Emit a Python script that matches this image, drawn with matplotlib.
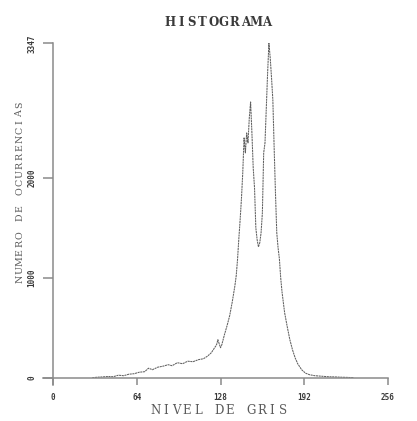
"""
Grey-level histogram of the test image, drawn in the old plotter style.
"""

import matplotlib
matplotlib.use('Agg')
import matplotlib.pyplot as plt

# histogram samples (grey level -> number of occurrences)
gray_level = [30, 34, 38, 42, 46, 50, 54, 58, 62, 66, 70, 73, 76, 80, 84, 88, 91, 95,
              99, 103, 107, 111, 115, 118, 121, 123, 125, 126, 127, 128, 129, 131, 133,
              135, 137, 139, 140, 141, 142, 143, 144, 145, 146, 147, 148, 149, 150, 151,
              152, 153, 154, 155, 156, 157, 158, 159, 160, 161, 162, 163, 164, 165, 166,
              167, 168, 169, 170, 171, 172, 173, 174, 175, 177, 179, 181, 183, 185, 187,
              190, 193, 196, 200, 205, 210, 215, 220, 225, 230]
counts = [0, 5, 8, 12, 10, 25, 20, 35, 40, 55, 60, 95, 80, 105, 115, 130, 120, 150,
          140, 165, 160, 180, 190, 215, 250, 290, 330, 380, 340, 300, 330, 430, 520,
          620, 760, 920, 1020, 1180, 1390, 1580, 1790, 2050, 2400, 2250, 2450, 2350, 2600, 2760,
          2450, 2100, 1900, 1500, 1380, 1310, 1350, 1450, 1650, 2250, 2350, 2700, 3050, 3347, 3200,
          3000, 2780, 2300, 1850, 1450, 1300, 1190, 1000, 860, 650, 510, 380, 280, 200, 140,
          80, 45, 30, 20, 15, 10, 8, 5, 3, 0]

x_ticks = [0, 64, 128, 192, 256]
y_ticks = [0, 1000, 2000, max(counts)]

W, H = 417, 421
INK = '#3a3a3a'
SOFT = '#5a5a5a'
AXIS = '#8a8a8a'


def spaced_text(fig, s, start, end, at, vertical=False, **kw):
    """Plotter-style lettering: one glyph per cell, evenly spread (pixel coords)."""
    step = (end - start) / len(s)
    for i, ch in enumerate(s):
        c = start + (i + 0.5) * step
        if vertical:
            fig.text(at / W, 1 - c / H, ch, rotation=90, ha='center', va='center', **kw)
        else:
            fig.text(c / W, 1 - at / H, ch, ha='center', va='center', **kw)


fig = plt.figure(figsize=(W / 100, H / 100), dpi=100)
ax = fig.add_axes([53 / W, 43.3 / H, 335 / W, 334.4 / H])

ax.plot(gray_level, counts, color='#606060', linewidth=0.75, linestyle=(0, (2, 0.6)))

ax.set_xlim(0, 256)
ax.set_ylim(0, max(counts))

for side in ('top', 'right'):
    ax.spines[side].set_visible(False)
ax.spines['left'].set_bounds(-70, max(counts))
ax.spines['bottom'].set_bounds(-8, 256)
for side in ('left', 'bottom'):
    ax.spines[side].set_color(AXIS)
    ax.spines[side].set_linewidth(1.1)

ax.set_xticks(x_ticks)
ax.set_xticklabels([str(t) for t in x_ticks])
ax.set_yticks(y_ticks)
ax.set_yticklabels([str(t) for t in y_ticks], rotation=90, va='center')
ax.tick_params(axis='x', direction='out', length=5, width=1.1, color=AXIS, pad=6,
               labelsize=5.5, labelcolor=INK)
ax.tick_params(axis='y', direction='out', length=7, width=1.1, color=AXIS, pad=5,
               labelsize=5.5, labelcolor=INK)
for lab in ax.get_xticklabels() + ax.get_yticklabels():
    lab.set_fontweight('bold')
    lab.set_family('DejaVu Sans Mono')

spaced_text(fig, 'HISTOGRAMA', 165, 272, 22.5, fontsize=8.5, fontweight='bold',
            family='DejaVu Serif', color=INK)
spaced_text(fig, 'NIVEL DE GRIS', 150, 288, 410, fontsize=8.5,
            family='DejaVu Serif', color=SOFT)
spaced_text(fig, 'NUMERO DE OCURRENCIAS', 283, 100, 20, vertical=True, fontsize=6.8,
            family='DejaVu Serif', color=SOFT)

fig.savefig('out.png', dpi=100)
plt.close(fig)
